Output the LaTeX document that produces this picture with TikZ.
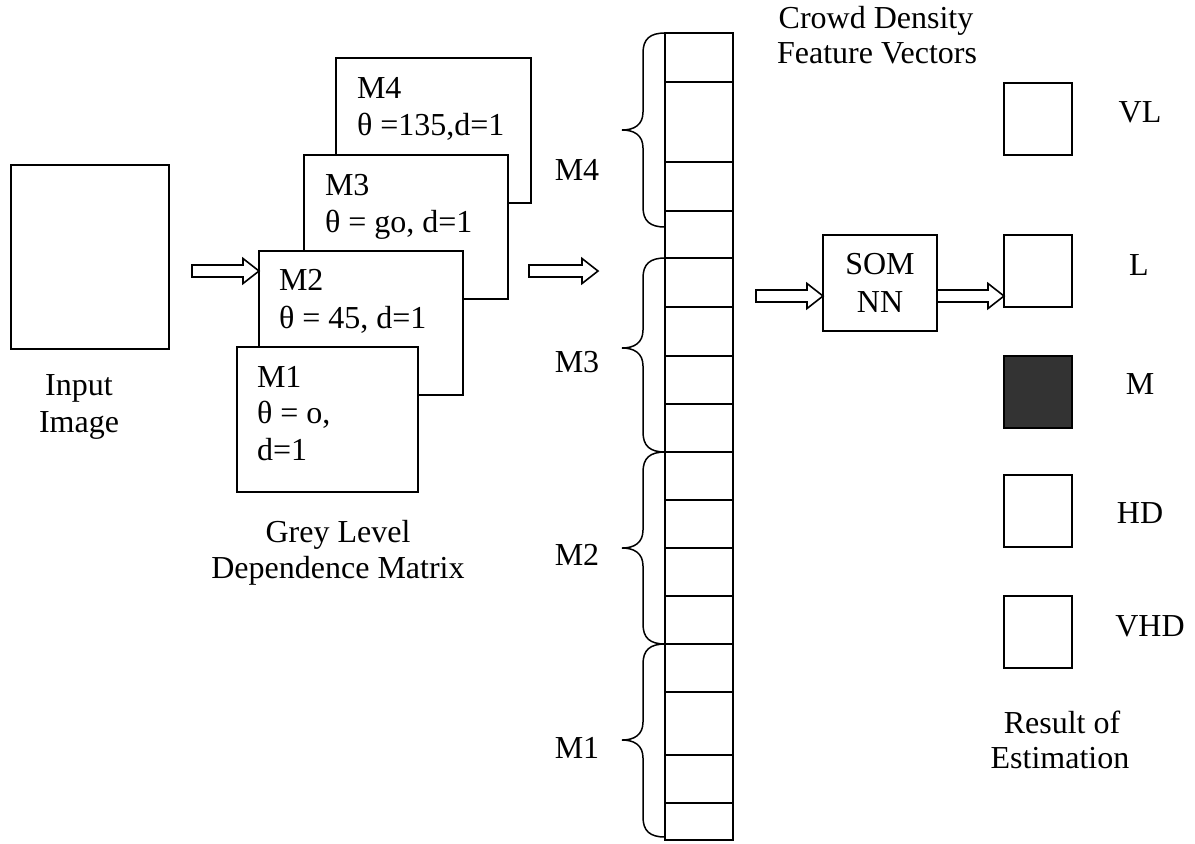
\documentclass[tikz,border=0pt]{standalone}
\usepackage{fontspec}
\setmainfont{Liberation Serif}
\usetikzlibrary{calc}
\definecolor{darkcell}{RGB}{51,51,51}
\begin{document}
\begin{tikzpicture}[x=0.5pt,y=-0.5pt,
  every node/.style={font=\fontsize{16pt}{18.5pt}\selectfont, inner sep=0pt, outer sep=0pt},
  box/.style={draw, line width=1pt, fill=white, anchor=north west},
  cell/.style={draw, line width=0.9pt, anchor=north west, minimum width=34pt},
  res/.style={box, minimum width=34pt, minimum height=36pt},
  lbl/.style={anchor=base},
  lbll/.style={anchor=base west},
  blockarrow/.style={draw, line width=0.8pt, fill=white,
    to path={let \p1=(\tikztostart), \p2=(\tikztotarget) in
      (\x1,\y1+3pt) -- (\x2-8pt,\y1+3pt) -- (\x2-8pt,\y1+6.25pt) -- (\x2,\y1)
      -- (\x2-8pt,\y1-6.25pt) -- (\x2-8pt,\y1-3pt) -- (\x1,\y1-3pt) -- cycle}},
  bracepath/.style={draw, line width=0.75pt}
]
\useasboundingbox (0,0) rectangle (1195,843);

% Input image
\node[box, minimum width=79pt, minimum height=92pt] (inp) at (11,165) {};
\node[lbl] (inpt1) at (79,395) {Input};
\node[lbl] (inpt2) at (79,432) {Image};

% Grey level matrices
\node[box, minimum width=97.5pt, minimum height=72.5pt] (m4) at (336,58) {};
\node[lbll] (m4t1) at (357,98) {M4};
\node[lbll] (m4t2) at (357,135) {θ =135,d=1};
\node[box, minimum width=102pt, minimum height=72pt] (m3) at (304,155) {};
\node[lbll] (m3t1) at (325,195) {M3};
\node[lbll] (m3t2) at (325,232) {θ = go, d=1};
\node[box, minimum width=102pt, minimum height=72pt] (m2) at (259,251) {};
\node[lbll] (m2t1) at (279,290) {M2};
\node[lbll] (m2t2) at (279,328) {θ = 45, d=1};
\node[box, minimum width=90.5pt, minimum height=72.5pt] (m1) at (237,347) {};
\node[lbll] (m1t1) at (257,387) {M1};
\node[lbll] (m1t2) at (257,423) {θ = o,};
\node[lbll] (m1t3) at (257,460) {d=1};
\node[lbl] (gl1) at (338,542) {Grey Level};
\node[lbl] (gl2) at (338,578) {Dependence Matrix};

% Feature vector column
\foreach \a/\b [count=\i] in {33/82,82/162,162/211,211/258,258/307,307/356,356/404,404/452,452/500,500/548,548/596,596/644,644/692,692/755,755/803,803/840}
  \node[cell, minimum height={(\b-\a)*0.5pt}] (c\i) at (665,\a) {};
\node[lbl] (cd1) at (876,28) {Crowd Density};
\node[lbl] (cd2) at (877,63) {Feature Vectors};

% Braces
\foreach \ya/\yt/\yb in {33/130/227,258/348/452,452/548/644,644/740/837}
  \draw[bracepath] (665,\ya) .. controls (650,\ya) and (643,\ya+6) .. (643,\ya+20)
    -- (643,\yt-18) .. controls (643,\yt-5) and (634,\yt) .. (622,\yt)
    .. controls (634,\yt) and (643,\yt+5) .. (643,\yt+18)
    -- (643,\yb-20) .. controls (643,\yb-6) and (650,\yb) .. (665,\yb);
\node (bm4) at (577,170) {M4};
\node (bm3) at (577,362) {M3};
\node (bm2) at (577,555) {M2};
\node (bm1) at (577,748) {M1};

% SOM
\node[box, minimum width=57pt, minimum height=48pt] (som) at (823,235) {};
\node[lbl] (somt1) at (880,274) {SOM};
\node[lbl] (somt2) at (880,312) {NN};

% Result boxes
\node[res] (rVL) at (1004,83) {};
\node[res] (rL) at (1004,235) {};
\node[res, fill=darkcell] (rM) at (1004,356) {};
\node[res] (rHD) at (1004,475) {};
\node[res] (rVHD) at (1004,596) {};
\node[lbl] (tVL) at (1140,122) {VL};
\node[lbl] (tL) at (1139,275) {L};
\node[lbl] (tM) at (1140,394) {M};
\node[lbl] (tHD) at (1140,523) {HD};
\node[lbl] (tVHD) at (1150,636) {VHD};
\node[lbl] (re1) at (1062,733) {Result of};
\node[lbl] (re2) at (1060,768) {Estimation};

% Block arrows
\coordinate (a1) at (192,271);
\draw[blockarrow] (a1) to (a1 -| m2.west);
\coordinate (a2s) at (529,271);
\coordinate (a2e) at (598,271);
\draw[blockarrow] (a2s) to (a2e);
\coordinate (a3) at (756,296);
\draw[blockarrow] (a3) to (a3 -| som.west);
\draw[blockarrow] (som.east |- a3) to (rL.west |- a3);
\end{tikzpicture}
\end{document}
